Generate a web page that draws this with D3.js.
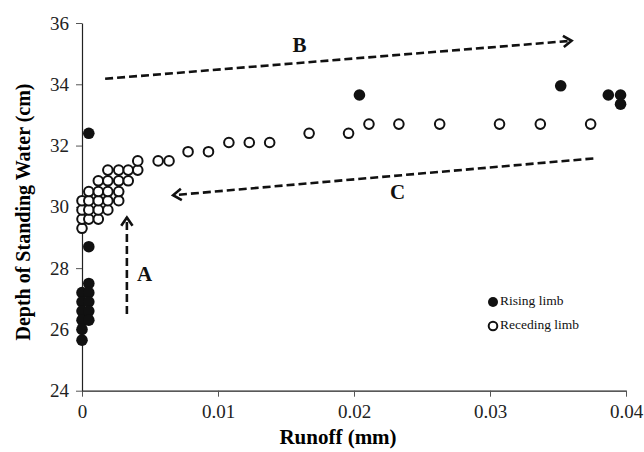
<!DOCTYPE html>
<html><head><meta charset="utf-8">
<script src="https://cdn.jsdelivr.net/npm/d3@7"></script>
<style>body{margin:0;background:#fff}svg{display:block}</style>
</head><body>
<script>
const risingX = [0,0,0,0,0,0, 0.0005,0.0005,0.0005,0.0005,0.0005, 0.0005,0.0005, 0.0204,0.0352,0.0387,0.0396,0.0396];
const risingY = [27.2,26.9,26.6,26.3,26.0,25.65, 27.5,27.2,26.9,26.6,26.3, 28.7,32.4, 33.65,33.95,33.65,33.65,33.35];
const recedingX = [0,0,0,0, 0.0005,0.0005,0.0005,0.0005, 0.0012,0.0012,0.0012,0.0012,0.0012, 0.0019,0.0019,0.0019,0.0019,0.0019, 0.0027,0.0027,0.0027,0.0027, 0.0034,0.0034, 0.0041,0.0041, 0.0056,0.0064, 0.0078,0.0093, 0.0108,0.0123,0.0138, 0.0167,0.0196, 0.0211,0.0233,0.0263,0.0307,0.0337,0.0374];
const recedingY = [29.3,29.6,29.9,30.2, 29.6,29.9,30.2,30.5, 29.6,29.9,30.2,30.5,30.85, 29.9,30.2,30.5,30.85,31.2, 30.2,30.5,30.85,31.2, 30.85,31.2, 31.2,31.5, 31.5,31.5, 31.8,31.8, 32.1,32.1,32.1, 32.4,32.4, 32.7,32.7,32.7,32.7,32.7,32.7];
const xTicks = [0,0.01,0.02,0.03,0.04];
const xTickLabels = ["0","0.01","0.02","0.03","0.04"];
const yTicks = [24,26,28,30,32,34,36];
const arrowNames = ["A","B","C"];
const arrowX1 = [0.0033, 0.0017, 0.0376];
const arrowY1 = [26.5, 34.18, 31.58];
const arrowX2 = [0.0033, 0.0360, 0.0067];
const arrowY2 = [29.65, 35.42, 30.38];
const labelX = [0.0046, 0.0160, 0.0232];
const labelY = [27.75, 35.2, 30.4];
const legendLabels = ["Rising limb","Receding limb"];

const W=644,H=452;
const svg=d3.select("body").append("svg").attr("width",W).attr("height",H);
const x=d3.scaleLinear().domain([0,0.04]).range([82,626]);
const y=d3.scaleLinear().domain([24,36]).range([390.7,23]);
const serif="'Liberation Serif','Times New Roman',serif";

const xa=svg.append("g").attr("transform","translate(0,390.7)")
  .call(d3.axisBottom(x).tickValues(xTicks).tickFormat((d,i)=>xTickLabels[i]).tickSize(6).tickSizeOuter(0));
const ya=svg.append("g").attr("transform","translate(82,0)")
  .call(d3.axisLeft(y).tickValues(yTicks).tickFormat(d3.format("d")).tickSize(6).tickSizeOuter(0));
[xa,ya].forEach(g=>{
  g.select(".domain").attr("stroke","#222").attr("stroke-width",1.2);
  g.selectAll(".tick line").attr("stroke","#555").attr("stroke-width",1);
  g.selectAll(".tick text").attr("font-family",serif).attr("font-size",19).attr("fill","#222");
});
xa.selectAll(".tick text").attr("dy","0.95em");
ya.selectAll(".tick text").attr("dx","-4px");

svg.append("text").attr("x",338).attr("y",444).attr("text-anchor","middle")
  .attr("font-family",serif).attr("font-weight","bold").attr("font-size",21).text("Runoff (mm)");
svg.append("text").attr("transform","translate(30,212) rotate(-90)").attr("text-anchor","middle")
  .attr("font-family",serif).attr("font-weight","bold").attr("font-size",20).text("Depth of Standing Water (cm)");

// arrows
const ag=svg.append("g");
arrowNames.forEach((n,i)=>{
  const px1=x(arrowX1[i]),py1=y(arrowY1[i]),px2=x(arrowX2[i]),py2=y(arrowY2[i]);
  ag.append("line").attr("x1",px1).attr("y1",py1).attr("x2",px2).attr("y2",py2)
    .attr("stroke","#111").attr("stroke-width",2.6).attr("stroke-dasharray","8,4");
  const ang=Math.atan2(py2-py1,px2-px1);
  const L=10,a=0.6;
  const p1=[px2-L*Math.cos(ang-a),py2-L*Math.sin(ang-a)];
  const p2=[px2-L*Math.cos(ang+a),py2-L*Math.sin(ang+a)];
  ag.append("path").attr("d",`M${p1[0]},${p1[1]}L${px2},${py2}L${p2[0]},${p2[1]}`)
    .attr("fill","none").attr("stroke","#111").attr("stroke-width",2.6);
  ag.append("text").attr("x",x(labelX[i])).attr("y",y(labelY[i])).attr("text-anchor","middle")
    .attr("dominant-baseline","middle").attr("font-family",serif).attr("font-weight","bold")
    .attr("font-size",21).attr("fill","#111").text(n);
});

// points
svg.append("g").selectAll("circle").data(recedingX).join("circle")
  .attr("cx",(d)=>x(d)).attr("cy",(d,i)=>y(recedingY[i])).attr("r",4.8)
  .attr("fill","#fff").attr("stroke","#111").attr("stroke-width",2);
svg.append("g").selectAll("circle").data(risingX).join("circle")
  .attr("cx",(d)=>x(d)).attr("cy",(d,i)=>y(risingY[i])).attr("r",5.8)
  .attr("fill","#111");

// legend
const lg=svg.append("g");
legendLabels.forEach((t,i)=>{
  const cy=302+i*24;
  if(i===0) lg.append("circle").attr("cx",493).attr("cy",cy).attr("r",5).attr("fill","#111");
  else lg.append("circle").attr("cx",493).attr("cy",cy).attr("r",4.3).attr("fill","#fff").attr("stroke","#111").attr("stroke-width",2);
  lg.append("text").attr("x",500).attr("y",cy).attr("dominant-baseline","middle")
    .attr("font-family",serif).attr("font-size",13.5).attr("fill","#111").text(t);
});
</script>
</body></html>
